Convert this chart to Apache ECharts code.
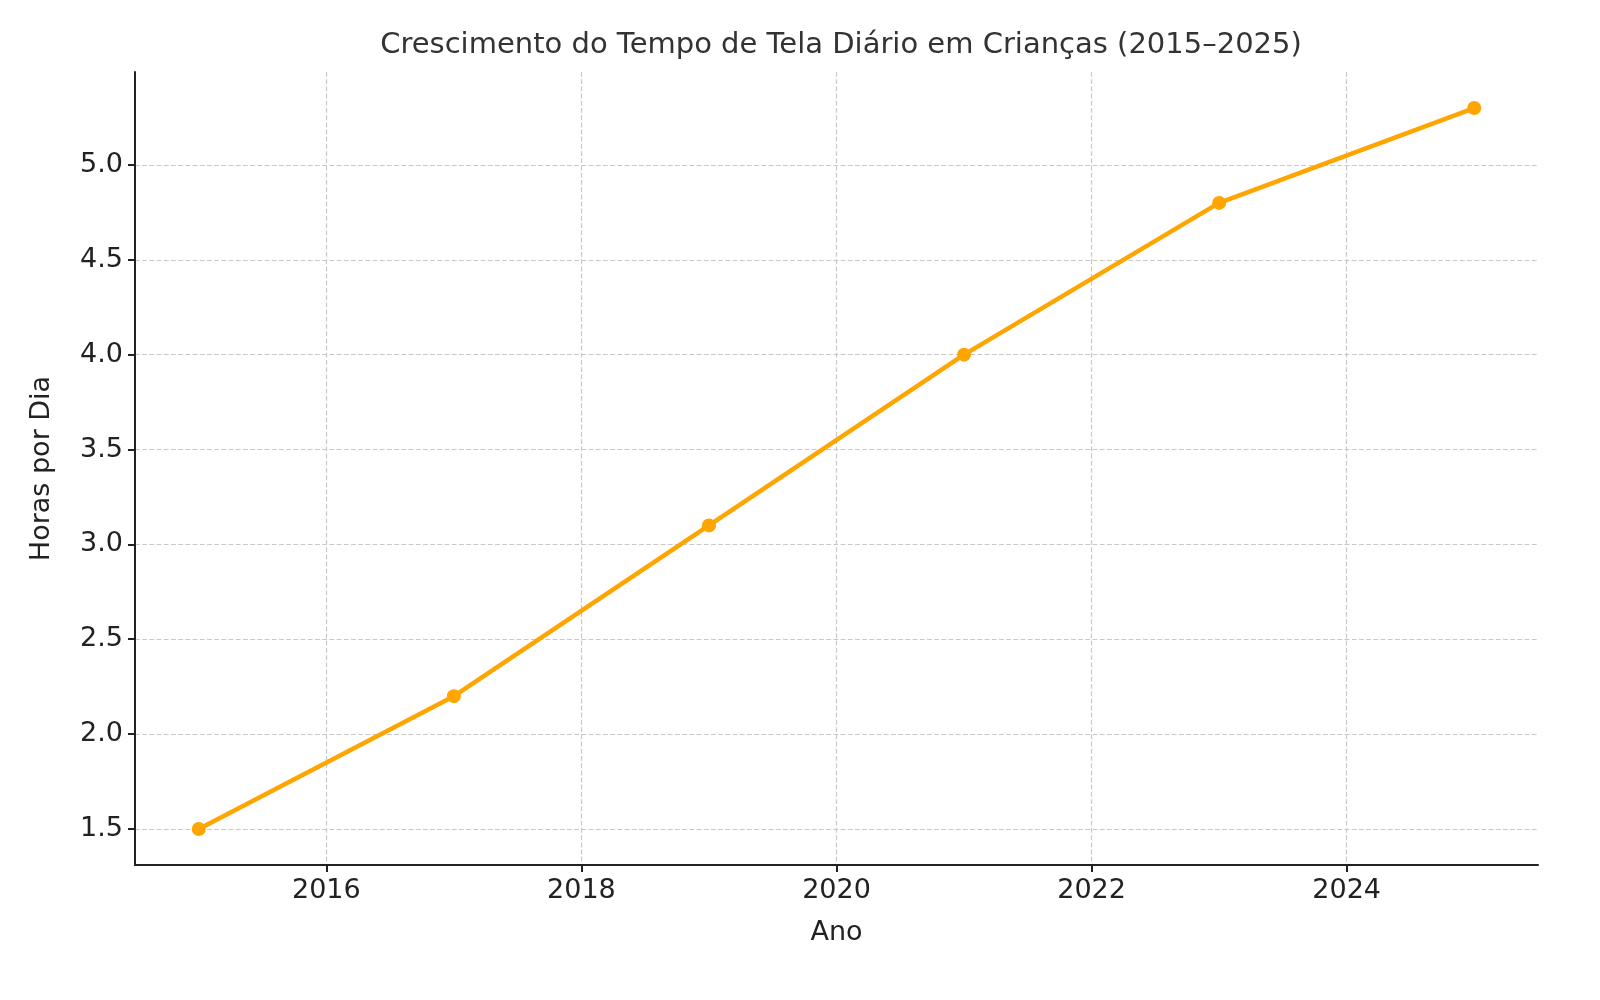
<!DOCTYPE html>
<html><head><meta charset="utf-8">
<script src="https://cdn.jsdelivr.net/npm/echarts@6/dist/echarts.min.js"></script>
<style>html,body{margin:0;background:#fff}#c{width:1600px;height:1000px}</style>
</head><body><div id="c"></div>
<script>
const years = [2015, 2017, 2019, 2021, 2023, 2025];
const hours = [1.5, 2.2, 3.1, 4.0, 4.8, 5.3];
const xTicks = [2016, 2018, 2020, 2022, 2024];
const yTicks = [1.5, 2.0, 2.5, 3.0, 3.5, 4.0, 4.5, 5.0];
const font = 'DejaVu Sans';
const chart = echarts.init(document.getElementById('c'));
chart.setOption({
  animation: false,
  title: {text: 'Crescimento do Tempo de Tela Diário em Crianças (2015–2025)', left: 836, top: 26, textAlign: 'center',
    textStyle: {fontFamily: font, fontSize: 29, fontWeight: 'normal', color: '#333'}},
  grid: {left: 135, right: 62, top: 72, bottom: 135},
  xAxis: {type: 'value', min: 2014.5, max: 2025.5, name: 'Ano', nameLocation: 'middle', nameGap: 54,
    nameTextStyle: {fontFamily: font, fontSize: 27, color: '#222'},
    axisLine: {lineStyle: {color: '#222', width: 2}},
    axisTick: {customValues: xTicks, length: 7, lineStyle: {color: '#222', width: 2}},
    axisLabel: {customValues: xTicks, fontFamily: font, fontSize: 27, color: '#222', margin: 12,
      formatter: v => String(Math.round(v))},
    splitLine: {show: true, lineStyle: {color: '#c8c8c8', type: 'dashed', width: 1.2}}},
  yAxis: {type: 'value', min: 1.31, max: 5.49, name: 'Horas por Dia', nameLocation: 'middle', nameGap: 80,
    nameTextStyle: {fontFamily: font, fontSize: 27, color: '#222'},
    axisLine: {show: true, lineStyle: {color: '#222', width: 2}},
    axisTick: {show: true, customValues: yTicks, length: 7, lineStyle: {color: '#222', width: 2}},
    axisLabel: {customValues: yTicks, fontFamily: font, fontSize: 27, color: '#222', margin: 12,
      formatter: v => v.toFixed(1)},
    splitLine: {show: true, lineStyle: {color: '#c8c8c8', type: 'dashed', width: 1.2}}},
  series: [{type: 'line', data: years.map((y, i) => [y, hours[i]]), symbol: 'circle', symbolSize: 14,
    lineStyle: {color: '#FFA500', width: 4.5}, itemStyle: {color: '#FFA500'}}]
});
</script></body></html>
